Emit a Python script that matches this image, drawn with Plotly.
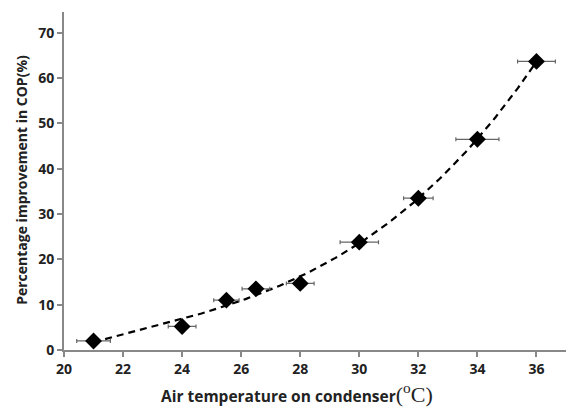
import numpy as np
import plotly.graph_objects as go

temp = [21, 24, 25.5, 26.5, 28, 30, 32, 34, 36]
cop_improvement = [2.0, 5.2, 11.0, 13.5, 14.7, 23.8, 33.5, 46.5, 63.7]
temp_err = [0.57, 0.47, 0.43, 0.47, 0.47, 0.65, 0.5, 0.73, 0.64]

x_ticks = [20, 22, 24, 26, 28, 30, 32, 34, 36]
y_ticks = [0, 10, 20, 30, 40, 50, 60, 70]

# polynomial (order 3) trendline fitted to the data
coef = np.polyfit(temp, cop_improvement, 3)
xf = np.linspace(min(temp), max(temp), 120)
yf = np.polyval(coef, xf)

fig = go.Figure()
fig.add_trace(go.Scatter(x=xf, y=yf, mode="lines",
                         line=dict(color="black", width=2.2, dash="7px,5px"),
                         hoverinfo="skip", showlegend=False))
fig.add_trace(go.Scatter(x=temp, y=cop_improvement, mode="markers",
                         marker=dict(symbol="diamond", size=13, color="black"),
                         error_x=dict(type="data", array=temp_err, color="#666666",
                                      thickness=1.2, width=2),
                         showlegend=False))

font_fam = "Open Sans, Liberation Sans, sans-serif"
axis_common = dict(showgrid=False, zeroline=False, automargin=False,
                   showline=True, linecolor="#888888", linewidth=2,
                   ticks="outside", ticklen=5, tickcolor="#888888", tickwidth=1.5,
                   tickfont=dict(size=14, weight="bold", family=font_fam, color="#222222"))
fig.update_layout(
    width=566, height=411,
    margin=dict(l=64, r=0, t=12, b=61),
    plot_bgcolor="white", paper_bgcolor="white",
    font=dict(family=font_fam, color="#222222"),
    xaxis=dict(range=[20, 37], tickvals=x_ticks, **axis_common),
    yaxis=dict(range=[0, 74.6], tickvals=y_ticks, **axis_common),
    annotations=[
        dict(text="Air temperature on condenser<span style='font-family:Liberation Serif;font-weight:normal;font-size:22px'>(<sup>o</sup>C)</span>",
             xref="paper", yref="paper", x=0.19, y=-0.128, xanchor="left", yanchor="middle",
             showarrow=False, font=dict(size=15.5, weight="bold", family=font_fam, color="#222222")),
        dict(text="Percentage improvement in COP(%)",
             xref="paper", yref="paper", x=-0.084, y=0.503, xanchor="center", yanchor="middle",
             textangle=-90, showarrow=False,
             font=dict(size=14, weight="bold", family=font_fam, color="#222222")),
    ],
)
fig.write_html("out.html", config={"displayModeBar": False},
               post_script="document.body.style.margin='0px';document.body.style.overflow='hidden';")
